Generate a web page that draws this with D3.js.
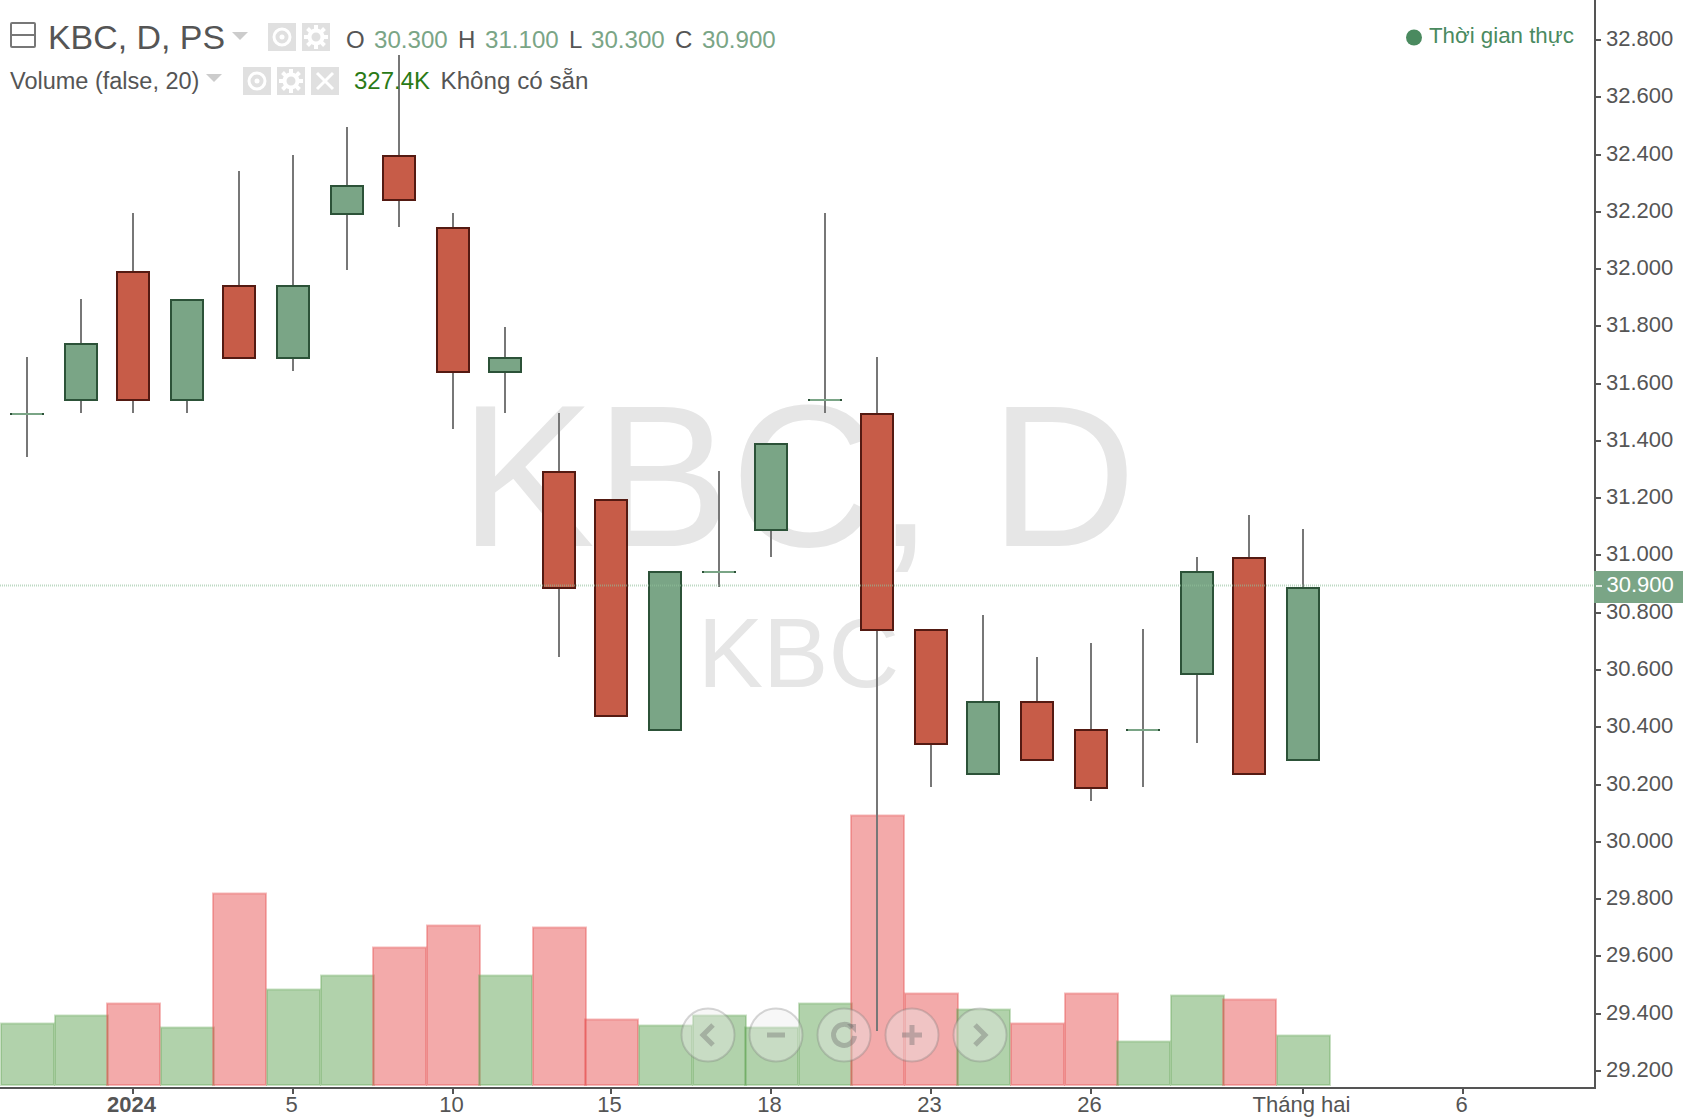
<!DOCTYPE html>
<html><head><meta charset="utf-8">
<style>html,body{margin:0;padding:0;background:#fff;overflow:hidden}svg{display:block;font-family:"Liberation Sans",Arial,sans-serif}</style>
<script src="https://cdn.jsdelivr.net/npm/d3@7/dist/d3.min.js"></script>
</head><body><svg id="c" width="1686" height="1118"></svg>
<script>
// Candles: Dec 28 2023 … Feb 1 2024
const dir   = ["u","u","d","u","d","u","u","d","d","u","d","d","u","u","u","u","d","d","u","d","d","u","u","d","u"];
const opens = [31.495,31.543,31.990,31.543,31.941,31.690,32.192,32.395,32.144,31.641,31.292,31.194,30.391,30.942,31.089,31.543,31.494,30.740,30.237,30.489,30.391,30.391,30.586,30.991,30.286];
const highs = [31.693,31.896,32.196,31.892,32.343,32.398,32.496,32.748,32.196,31.798,31.498,31.194,30.942,31.295,31.389,32.196,31.693,30.740,30.792,30.646,30.695,30.743,30.995,31.141,31.093];
const lows  = [31.344,31.498,31.498,31.498,31.690,31.644,31.996,32.147,31.442,31.498,30.646,30.440,30.391,30.890,30.995,31.498,29.340,30.192,30.237,30.286,30.143,30.192,30.345,30.237,30.286];
const closes= [31.495,31.739,31.543,31.892,31.690,31.941,32.290,32.241,31.641,31.690,30.887,30.440,30.942,30.942,31.389,31.543,30.740,30.342,30.489,30.286,30.188,30.391,30.942,30.237,30.887];
const volumes=[407,460,540,380,1270,633,726,912,1058,726,1044,434,394,460,380,540,1788,606,500,407,606,288,593,566,327.4];
const priceTicks=[29.2,29.4,29.6,29.8,30,30.2,30.4,30.6,30.8,31,31.2,31.4,31.6,31.8,32,32.2,32.4,32.6,32.8];
const dateTickIndex=[2,5,8,11,14,17,20,24,27];
const dateTickLabels=["2024","5","10","15","18","23","26","Tháng hai","6"];
const lastClose=30.9;
const legendOHLC=[["O","30.300",346,374],["H","31.100",458,485],["L","30.300",569,591],["C","30.900",675,702]];

const svg=d3.select("#c");
const x=d3.scaleLinear().domain([0,24]).range([27.1,1302.9]);
const y=d3.scaleLinear().domain([29.2,32.8]).range([1071,40]);
const v=d3.scaleLinear().domain([0,1000]).range([1085,934.4]);
const X=i=>2*Math.round((x(i)-1)/2)+1, Y=p=>Math.round(y(p));
const GREEN="#7aa586",GREEN_D="#2c5238",RED="#c75c48",RED_D="#541a12",INK="#555";

// watermark
svg.append("text").attr("x",798).attr("y",545.5).attr("text-anchor","middle").attr("font-size",203).attr("fill","#e6e6e6").text("KBC, D");
svg.append("text").attr("x",798.5).attr("y",686.5).attr("text-anchor","middle").attr("font-size",98).attr("fill","#e6e6e6").text("KBC");

// volume
svg.append("g").selectAll("rect").data(volumes).join("rect")
 .attr("x",(d,i)=>X(i)-26).attr("width",53)
 .attr("y",d=>Math.round(v(d))-0.5).attr("height",d=>1085-Math.round(v(d))+0.5)
 .attr("fill",(d,i)=>dir[i]=="u"?"rgba(99,165,87,.5)":"rgba(231,85,85,.5)")
 .attr("stroke",(d,i)=>dir[i]=="u"?"rgba(99,165,87,.35)":"rgba(231,85,85,.4)").attr("stroke-width",2);

// wicks
svg.append("g").selectAll("rect").data(highs).join("rect")
 .attr("x",(d,i)=>X(i)-1).attr("width",2).attr("fill","#777")
 .attr("y",d=>Y(d)).attr("height",(d,i)=>Y(lows[i])-Y(d));

// bodies
const bodies=svg.append("g").selectAll("g").data(opens).join("g");
bodies.append("rect").attr("x",(d,i)=>X(i)-17).attr("width",34)
 .attr("y",(d,i)=>Math.min(Y(d),Y(closes[i]))-1)
 .attr("height",(d,i)=>Math.abs(Y(d)-Y(closes[i]))+2)
 .attr("fill",(d,i)=>dir[i]=="u"?GREEN_D:RED_D);
bodies.append("rect").attr("x",(d,i)=>X(i)-15).attr("width",30)
 .attr("y",(d,i)=>{const h=Math.abs(Y(d)-Y(closes[i]));return Math.min(Y(d),Y(closes[i]))+(h?1:-1)})
 .attr("height",(d,i)=>{const h=Math.abs(Y(d)-Y(closes[i]));return h?h-2:2})
 .attr("fill",(d,i)=>dir[i]=="u"?GREEN:RED);

// last price line
svg.append("line").attr("x1",0).attr("x2",1594).attr("y1",585.5).attr("y2",585.5)
 .attr("stroke","#8fbf9b").attr("stroke-opacity",.6).attr("stroke-width",2).attr("stroke-dasharray","1 1");

// axes
const yAxis=d3.axisRight(y).tickValues(priceTicks).tickFormat(d3.format(".3f")).tickSize(6).tickPadding(5).offset(0);
const gy=svg.append("g").attr("transform","translate(1595,0)").call(yAxis);
gy.select(".domain").attr("d","M0,0V1089").attr("stroke",INK).attr("stroke-width",2);
gy.selectAll(".tick").attr("transform",d=>`translate(0,${Y(d)})`);
gy.selectAll(".tick line").attr("stroke",INK).attr("stroke-width",2);
gy.selectAll(".tick text").attr("fill",INK).attr("font-size",22).attr("font-family","Liberation Sans").attr("dy","0.27em");

const xAxis=d3.axisBottom(x).tickValues(dateTickIndex).tickFormat((d,i)=>dateTickLabels[i]).tickSize(6).tickPadding(2.5).offset(0);
const gx=svg.append("g").attr("transform","translate(0,1088)").call(xAxis);
gx.select(".domain").attr("d","M0,0H1596").attr("stroke",INK).attr("stroke-width",2);
gx.selectAll(".tick").attr("transform",d=>`translate(${X(d)},0)`);
gx.selectAll(".tick line").attr("stroke",INK).attr("stroke-width",2);
gx.selectAll(".tick text").attr("fill",INK).attr("font-size",22).attr("font-family","Liberation Sans")
  .attr("dx",-1.5).attr("font-weight",(d,i)=>i==0?"bold":"normal");

// last price label
svg.append("rect").attr("x",1594).attr("y",571).attr("width",89).attr("height",32).attr("fill",GREEN);
svg.append("rect").attr("x",1596).attr("y",585).attr("width",6).attr("height",2).attr("fill","#dfeae2");
svg.append("text").attr("x",1606.5).attr("y",592).attr("font-size",22).attr("fill","#fff").text(d3.format(".3f")(lastClose));

// legend
const t=(s,xx,yy,size,fill)=>svg.append("text").attr("x",xx).attr("y",yy).attr("font-size",size).attr("fill",fill).text(s);
svg.append("rect").attr("x",11).attr("y",23).attr("width",24).attr("height",24).attr("fill","none").attr("stroke","#777").attr("stroke-width",2).attr("rx",1);
svg.append("line").attr("x1",11).attr("x2",35).attr("y1",35).attr("y2",35).attr("stroke","#777").attr("stroke-width",2);
t("KBC, D, PS",48,49,33.9,INK);
const tri=(xx,yy)=>svg.append("path").attr("d",`M${xx},${yy}h16l-8,8z`).attr("fill","#ccc");
tri(232,32); tri(206,74);
legendOHLC.forEach(r=>{t(r[0],r[2],48,24,INK);t(r[1],r[3],48,24.1,GREEN)});
t("Volume (false, 20)",10,88.5,23.5,INK);
t("327.4K",354,88.5,24,"#2a7a16");
t("Không có sẵn",440.5,88.5,24.2,INK);

const btn=(xx,yy,kind)=>{
  const g=svg.append("g").attr("transform",`translate(${xx},${yy})`);
  g.append("rect").attr("width",28).attr("height",28).attr("fill","#e0e0e0");
  const cx=14,cy=14;
  if(kind=="eye"){g.append("circle").attr("cx",cx).attr("cy",cy).attr("r",8).attr("fill","none").attr("stroke","#fff").attr("stroke-width",3);
    g.append("circle").attr("cx",cx).attr("cy",cy).attr("r",2.5).attr("fill","#fff");}
  if(kind=="gear"){g.append("circle").attr("cx",cx).attr("cy",cy).attr("r",6.5).attr("fill","none").attr("stroke","#fff").attr("stroke-width",4);
    d3.range(8).forEach(k=>g.append("rect").attr("x",cx-2).attr("y",cy-12).attr("width",4).attr("height",5).attr("fill","#fff").attr("transform",`rotate(${k*45} ${cx} ${cy})`));}
  if(kind=="x"){g.append("path").attr("d","M6,6L22,22M22,6L6,22").attr("stroke","#fff").attr("stroke-width",3);}
};
btn(268,23,"eye");btn(302,23,"gear");btn(243,67,"eye");btn(277,67,"gear");btn(311,67,"x");

// realtime
svg.append("circle").attr("cx",1414).attr("cy",37.5).attr("r",8).attr("fill","#4a8a5f");
t("Thời gian thực",1429,43,22.3,"#4a8a5f");

// nav buttons
const ICON="rgba(110,110,110,.4)";
[708,776,844,912,980].forEach((cx,i)=>{
  const g=svg.append("g").attr("transform",`translate(${cx},1035)`);
  g.append("circle").attr("r",26.5).attr("fill","rgba(235,235,235,.4)").attr("stroke","rgba(120,120,120,.3)").attr("stroke-width",2);
  const p=g.append("path").attr("fill","none").attr("stroke",ICON).attr("stroke-width",5);
  if(i==0)p.attr("d","M5,-10L-5,0L5,10");
  if(i==1)p.attr("d","M-9,0H9");
  if(i==2)p.attr("d","M8,-7A10.5,10.5 0 1 0 10.5,1");
  if(i==3)p.attr("d","M-10,0H10M0,-10V10");
  if(i==4)p.attr("d","M-5,-10L5,0L-5,10");
  if(i==2)g.append("path").attr("d","M3,-11H12V-2z").attr("fill",ICON);
});
</script></body></html>
